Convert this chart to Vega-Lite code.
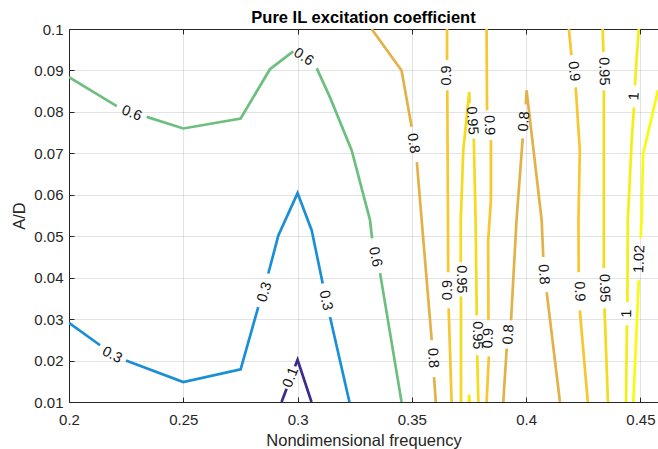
{
  "$schema": "https://vega.github.io/schema/vega-lite/v6.json",
  "width": 589,
  "height": 373,
  "autosize": {"type": "none"},
  "padding": {"left": 69, "top": 29, "right": 0, "bottom": 47},
  "background": "white",
  "config": {"view": {"stroke": null}, "font": "Liberation Sans"},
  "title": {"text": "Pure IL excitation coefficient", "fontSize": 16.5, "fontWeight": "bold", "color": "#000000", "font": "Liberation Sans", "anchor": "middle", "offset": -4},
  "datasets": {
    "lines": [
      {"lv": "0.1", "part": "d1", "i": 0, "x": 0.2930, "y": 0.0100},
      {"lv": "0.1", "part": "d1", "i": 1, "x": 0.2952, "y": 0.0132},
      {"lv": "0.1", "part": "d2", "i": 0, "x": 0.2989, "y": 0.0186},
      {"lv": "0.1", "part": "d2", "i": 1, "x": 0.3000, "y": 0.0202},
      {"lv": "0.1", "part": "d2", "i": 2, "x": 0.3061, "y": 0.0100},

      {"lv": "0.3", "part": "b1", "i": 0, "x": 0.2000, "y": 0.0291},
      {"lv": "0.3", "part": "b1", "i": 1, "x": 0.2136, "y": 0.0237},
      {"lv": "0.3", "part": "b2", "i": 0, "x": 0.2249, "y": 0.0200},
      {"lv": "0.3", "part": "b2", "i": 1, "x": 0.2500, "y": 0.0148},
      {"lv": "0.3", "part": "b2", "i": 2, "x": 0.2751, "y": 0.0179},
      {"lv": "0.3", "part": "b2", "i": 3, "x": 0.2828, "y": 0.0329},
      {"lv": "0.3", "part": "b3", "i": 0, "x": 0.2872, "y": 0.0410},
      {"lv": "0.3", "part": "b3", "i": 1, "x": 0.2916, "y": 0.0502},
      {"lv": "0.3", "part": "b3", "i": 2, "x": 0.3000, "y": 0.0604},
      {"lv": "0.3", "part": "b3", "i": 3, "x": 0.3062, "y": 0.0514},
      {"lv": "0.3", "part": "b3", "i": 4, "x": 0.3110, "y": 0.0386},
      {"lv": "0.3", "part": "b4", "i": 0, "x": 0.3142, "y": 0.0305},
      {"lv": "0.3", "part": "b4", "i": 1, "x": 0.3227, "y": 0.0100},

      {"lv": "0.6", "part": "g1", "i": 0, "x": 0.2000, "y": 0.0884},
      {"lv": "0.6", "part": "g1", "i": 1, "x": 0.2209, "y": 0.0814},
      {"lv": "0.6", "part": "g2", "i": 0, "x": 0.2340, "y": 0.0788},
      {"lv": "0.6", "part": "g2", "i": 1, "x": 0.2500, "y": 0.0760},
      {"lv": "0.6", "part": "g2", "i": 2, "x": 0.2751, "y": 0.0784},
      {"lv": "0.6", "part": "g2", "i": 3, "x": 0.2879, "y": 0.0903},
      {"lv": "0.6", "part": "g2", "i": 4, "x": 0.2981, "y": 0.0946},
      {"lv": "0.6", "part": "g3", "i": 0, "x": 0.3084, "y": 0.0905},
      {"lv": "0.6", "part": "g3", "i": 1, "x": 0.3142, "y": 0.0835},
      {"lv": "0.6", "part": "g3", "i": 2, "x": 0.3237, "y": 0.0707},
      {"lv": "0.6", "part": "g3", "i": 3, "x": 0.3317, "y": 0.0539},
      {"lv": "0.6", "part": "g3", "i": 4, "x": 0.3326, "y": 0.0495},
      {"lv": "0.6", "part": "g4", "i": 0, "x": 0.3361, "y": 0.0411},
      {"lv": "0.6", "part": "g4", "i": 1, "x": 0.3455, "y": 0.0100},

      {"lv": "0.8", "part": "o1", "i": 0, "x": 0.3324, "y": 0.1000},
      {"lv": "0.8", "part": "o1", "i": 1, "x": 0.3455, "y": 0.0900},
      {"lv": "0.8", "part": "o1", "i": 2, "x": 0.3499, "y": 0.0764},
      {"lv": "0.8", "part": "o2", "i": 0, "x": 0.3522, "y": 0.0679},
      {"lv": "0.8", "part": "o2", "i": 1, "x": 0.3543, "y": 0.0539},
      {"lv": "0.8", "part": "o2", "i": 2, "x": 0.3587, "y": 0.0249},
      {"lv": "0.8", "part": "o3", "i": 0, "x": 0.3597, "y": 0.0160},
      {"lv": "0.8", "part": "o3", "i": 1, "x": 0.3605, "y": 0.0100},
      {"lv": "0.8", "part": "o4", "i": 0, "x": 0.3900, "y": 0.0100},
      {"lv": "0.8", "part": "o4", "i": 1, "x": 0.3915, "y": 0.0229},
      {"lv": "0.8", "part": "o5", "i": 0, "x": 0.3934, "y": 0.0297},
      {"lv": "0.8", "part": "o5", "i": 1, "x": 0.3958, "y": 0.0539},
      {"lv": "0.8", "part": "o5", "i": 2, "x": 0.3985, "y": 0.0736},
      {"lv": "0.8", "part": "o6", "i": 0, "x": 0.3999, "y": 0.0818},
      {"lv": "0.8", "part": "o6", "i": 1, "x": 0.4002, "y": 0.0852},
      {"lv": "0.8", "part": "o6", "i": 2, "x": 0.4068, "y": 0.0539},
      {"lv": "0.8", "part": "o6", "i": 3, "x": 0.4075, "y": 0.0450},
      {"lv": "0.8", "part": "o7", "i": 0, "x": 0.4090, "y": 0.0365},
      {"lv": "0.8", "part": "o7", "i": 1, "x": 0.4148, "y": 0.0100},

      {"lv": "0.9", "part": "a1", "i": 0, "x": 0.3654, "y": 0.1000},
      {"lv": "0.9", "part": "a1", "i": 1, "x": 0.3654, "y": 0.0925},
      {"lv": "0.9", "part": "a2", "i": 0, "x": 0.3655, "y": 0.0852},
      {"lv": "0.9", "part": "a2", "i": 1, "x": 0.3658, "y": 0.0539},
      {"lv": "0.9", "part": "a2", "i": 2, "x": 0.3659, "y": 0.0413},
      {"lv": "0.9", "part": "a3", "i": 0, "x": 0.3661, "y": 0.0326},
      {"lv": "0.9", "part": "a3", "i": 1, "x": 0.3674, "y": 0.0100},
      {"lv": "0.9", "part": "c1", "i": 0, "x": 0.3827, "y": 0.1000},
      {"lv": "0.9", "part": "c1", "i": 1, "x": 0.3829, "y": 0.0804},
      {"lv": "0.9", "part": "c2", "i": 0, "x": 0.3846, "y": 0.0732},
      {"lv": "0.9", "part": "c2", "i": 1, "x": 0.3846, "y": 0.0587},
      {"lv": "0.9", "part": "c2", "i": 2, "x": 0.3834, "y": 0.0490},
      {"lv": "0.9", "part": "c2", "i": 3, "x": 0.3835, "y": 0.0297},
      {"lv": "0.9", "part": "c3", "i": 0, "x": 0.3837, "y": 0.0210},
      {"lv": "0.9", "part": "c3", "i": 1, "x": 0.3827, "y": 0.0100},
      {"lv": "0.9", "part": "p1", "i": 0, "x": 0.4187, "y": 0.1000},
      {"lv": "0.9", "part": "p1", "i": 1, "x": 0.4198, "y": 0.0937},
      {"lv": "0.9", "part": "p2", "i": 0, "x": 0.4217, "y": 0.0859},
      {"lv": "0.9", "part": "p2", "i": 1, "x": 0.4235, "y": 0.0707},
      {"lv": "0.9", "part": "p2", "i": 2, "x": 0.4229, "y": 0.0539},
      {"lv": "0.9", "part": "p2", "i": 3, "x": 0.4230, "y": 0.0413},
      {"lv": "0.9", "part": "p3", "i": 0, "x": 0.4235, "y": 0.0321},
      {"lv": "0.9", "part": "p3", "i": 1, "x": 0.4270, "y": 0.0100},

      {"lv": "0.95", "part": "w1", "i": 0, "x": 0.3715, "y": 0.0100},
      {"lv": "0.95", "part": "w1", "i": 1, "x": 0.3715, "y": 0.0355},
      {"lv": "0.95", "part": "w2", "i": 0, "x": 0.3714, "y": 0.0437},
      {"lv": "0.95", "part": "w2", "i": 1, "x": 0.3714, "y": 0.0539},
      {"lv": "0.95", "part": "w2", "i": 2, "x": 0.3725, "y": 0.0707},
      {"lv": "0.95", "part": "w2", "i": 3, "x": 0.3751, "y": 0.0848},
      {"lv": "0.95", "part": "w2", "i": 4, "x": 0.3753, "y": 0.0821},
      {"lv": "0.95", "part": "w3", "i": 0, "x": 0.3771, "y": 0.0736},
      {"lv": "0.95", "part": "w3", "i": 1, "x": 0.3779, "y": 0.0539},
      {"lv": "0.95", "part": "w3", "i": 2, "x": 0.3784, "y": 0.0309},
      {"lv": "0.95", "part": "w4", "i": 0, "x": 0.3786, "y": 0.0213},
      {"lv": "0.95", "part": "w4", "i": 1, "x": 0.3791, "y": 0.0100},
      {"lv": "0.95", "part": "q1", "i": 0, "x": 0.4335, "y": 0.1000},
      {"lv": "0.95", "part": "q1", "i": 1, "x": 0.4338, "y": 0.0944},
      {"lv": "0.95", "part": "q2", "i": 0, "x": 0.4340, "y": 0.0852},
      {"lv": "0.95", "part": "q2", "i": 1, "x": 0.4340, "y": 0.0539},
      {"lv": "0.95", "part": "q2", "i": 2, "x": 0.4340, "y": 0.0423},
      {"lv": "0.95", "part": "q3", "i": 0, "x": 0.4343, "y": 0.0326},
      {"lv": "0.95", "part": "q3", "i": 1, "x": 0.4358, "y": 0.0100},

      {"lv": "1", "part": "f1", "i": 0, "x": 0.4493, "y": 0.1000},
      {"lv": "1", "part": "f1", "i": 1, "x": 0.4483, "y": 0.0925},
      {"lv": "1", "part": "f1", "i": 2, "x": 0.4476, "y": 0.0864},
      {"lv": "1", "part": "f2", "i": 0, "x": 0.4472, "y": 0.0811},
      {"lv": "1", "part": "f2", "i": 1, "x": 0.4462, "y": 0.0732},
      {"lv": "1", "part": "f2", "i": 2, "x": 0.4445, "y": 0.0539},
      {"lv": "1", "part": "f2", "i": 3, "x": 0.4443, "y": 0.0341},
      {"lv": "1", "part": "f3", "i": 0, "x": 0.4441, "y": 0.0285},
      {"lv": "1", "part": "f3", "i": 1, "x": 0.4437, "y": 0.0100},
      {"lv": "1", "part": "f4", "i": 0, "x": 0.3749, "y": 0.0100},
      {"lv": "1", "part": "f4", "i": 1, "x": 0.3751, "y": 0.0118},
      {"lv": "1", "part": "f4", "i": 2, "x": 0.3753, "y": 0.0100},

      {"lv": "1.02", "part": "r1", "i": 0, "x": 0.4577, "y": 0.0852},
      {"lv": "1.02", "part": "r1", "i": 1, "x": 0.4512, "y": 0.0699},
      {"lv": "1.02", "part": "r1", "i": 2, "x": 0.4505, "y": 0.0539},
      {"lv": "1.02", "part": "r1", "i": 3, "x": 0.4501, "y": 0.0495},
      {"lv": "1.02", "part": "r2", "i": 0, "x": 0.4493, "y": 0.0394},
      {"lv": "1.02", "part": "r2", "i": 1, "x": 0.4469, "y": 0.0100}
    ],
    "labels": [
      {"lv": "0.1", "x": 0.2971, "y": 0.0159, "rot": -69},
      {"lv": "0.3", "x": 0.2188, "y": 0.0213, "rot": 27},
      {"lv": "0.3", "x": 0.2857, "y": 0.0365, "rot": -73},
      {"lv": "0.3", "x": 0.3122, "y": 0.0345, "rot": 78},
      {"lv": "0.6", "x": 0.2274, "y": 0.0796, "rot": 22},
      {"lv": "0.6", "x": 0.3026, "y": 0.0932, "rot": 33},
      {"lv": "0.6", "x": 0.3339, "y": 0.0450, "rot": 78},
      {"lv": "0.8", "x": 0.3505, "y": 0.0724, "rot": 81},
      {"lv": "0.8", "x": 0.3591, "y": 0.0206, "rot": 86},
      {"lv": "0.8", "x": 0.3925, "y": 0.0263, "rot": -86},
      {"lv": "0.8", "x": 0.3993, "y": 0.0777, "rot": -86},
      {"lv": "0.8", "x": 0.4075, "y": 0.0408, "rot": 86},
      {"lv": "0.9", "x": 0.3654, "y": 0.0888, "rot": -90},
      {"lv": "0.9", "x": 0.3660, "y": 0.0370, "rot": -90},
      {"lv": "0.9", "x": 0.3837, "y": 0.0768, "rot": 88},
      {"lv": "0.9", "x": 0.3836, "y": 0.0254, "rot": -88},
      {"lv": "0.9", "x": 0.4207, "y": 0.0898, "rot": 84},
      {"lv": "0.9", "x": 0.4232, "y": 0.0367, "rot": 88},
      {"lv": "0.95", "x": 0.3714, "y": 0.0396, "rot": 90},
      {"lv": "0.95", "x": 0.3762, "y": 0.0779, "rot": 86},
      {"lv": "0.95", "x": 0.3785, "y": 0.0261, "rot": 90},
      {"lv": "0.95", "x": 0.4339, "y": 0.0898, "rot": 89},
      {"lv": "0.95", "x": 0.4341, "y": 0.0375, "rot": 89},
      {"lv": "1", "x": 0.4474, "y": 0.0838, "rot": -87},
      {"lv": "1", "x": 0.4442, "y": 0.0313, "rot": -89},
      {"lv": "1.02", "x": 0.4497, "y": 0.0445, "rot": -87}
    ]
  },
  "resolve": {"axis": {"x": "independent"}},
  "layer": [
    {
      "data": {"name": "lines"},
      "mark": {"type": "line", "strokeWidth": 2.7, "clip": true},
      "encoding": {
        "x": {
          "field": "x", "type": "quantitative",
          "scale": {"domain": [0.2, 0.4577], "nice": false, "zero": false},
          "axis": {
            "title": "Nondimensional frequency",
            "values": [0.2, 0.25, 0.3, 0.35, 0.4, 0.45],
            "format": "~g",
            "labelFontSize": 15, "labelFont": "Liberation Sans", "labelColor": "#262626",
            "labelFlush": false, "labelOverlap": false, "labelPadding": 15,
            "titleFontSize": 16.5, "titleFont": "Liberation Sans", "titleFontWeight": "normal", "titleColor": "#262626", "titlePadding": 5,
            "tickSize": -5, "tickColor": "#262626",
            "domainColor": "#262626",
            "grid": true, "gridColor": "#262626", "gridOpacity": 0.13
          }
        },
        "y": {
          "field": "y", "type": "quantitative",
          "scale": {"domain": [0.01, 0.1], "nice": false, "zero": false},
          "axis": {
            "title": "A/D",
            "values": [0.01, 0.02, 0.03, 0.04, 0.05, 0.06, 0.07, 0.08, 0.09, 0.1],
            "format": "~g",
            "labelFontSize": 15, "labelFont": "Liberation Sans", "labelColor": "#262626",
            "labelFlush": false, "labelOverlap": false, "labelPadding": 11,
            "titleFontSize": 16.5, "titleFont": "Liberation Sans", "titleFontWeight": "normal", "titleColor": "#262626", "titlePadding": 6,
            "tickSize": -5, "tickColor": "#262626",
            "domainColor": "#262626",
            "grid": true, "gridColor": "#262626", "gridOpacity": 0.13
          }
        },
        "color": {
          "field": "lv", "type": "nominal", "legend": null,
          "scale": {
            "domain": ["0.1", "0.3", "0.6", "0.8", "0.9", "0.95", "1", "1.02"],
            "range": ["#3b2c8c", "#1a8fd6", "#6dbf7f", "#e4b148", "#f7c630", "#f3db1d", "#f4ee17", "#f9fb0e"]
          }
        },
        "detail": {"field": "part"},
        "order": {"field": "i", "type": "quantitative"}
      }
    },
    {
      "data": {"name": "labels"},
      "mark": {"type": "text", "fontSize": 14.5, "font": "Liberation Sans", "color": "#111111", "align": "center", "baseline": "middle", "clip": true},
      "encoding": {
        "x": {
          "field": "x", "type": "quantitative",
          "axis": {
            "orient": "top", "title": null, "labels": false, "grid": false,
            "values": [0.2, 0.25, 0.3, 0.35, 0.4, 0.45],
            "tickSize": -5, "tickColor": "#262626", "domainColor": "#262626"
          }
        },
        "y": {"field": "y", "type": "quantitative"},
        "text": {"field": "lv"},
        "angle": {"field": "rot", "type": "quantitative", "scale": null}
      }
    }
  ]
}
